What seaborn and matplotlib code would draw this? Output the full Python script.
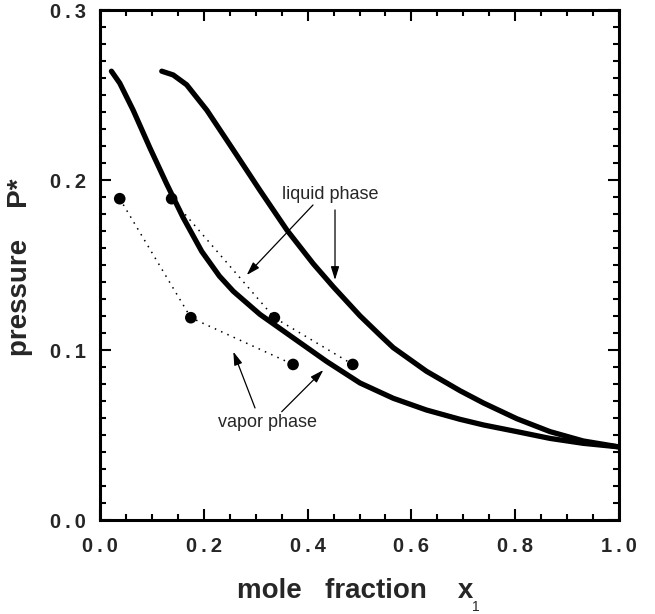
import matplotlib
matplotlib.use("Agg")
import matplotlib.pyplot as plt
from matplotlib.ticker import MultipleLocator, FuncFormatter
import seaborn as sns
import pandas as pd

# Coexistence curves (reduced pressure vs. mole fraction of component 1)
vapor_curve_x = [0.022, 0.038, 0.064, 0.096, 0.128, 0.160, 0.196, 0.230, 0.257, 0.308,
                 0.372, 0.437, 0.501, 0.565, 0.629, 0.694, 0.739, 0.803, 0.867, 0.931, 1.0]
vapor_curve_y = [0.264, 0.257, 0.241, 0.219, 0.198, 0.178, 0.158, 0.1435, 0.1345, 0.121,
                 0.1072, 0.0932, 0.0806, 0.0716, 0.0647, 0.0592, 0.0559, 0.0520, 0.0480, 0.0451, 0.043]

liquid_curve_x = [0.119, 0.141, 0.167, 0.206, 0.257, 0.308, 0.360, 0.411, 0.450, 0.501,
                  0.540, 0.565, 0.629, 0.694, 0.739, 0.803, 0.867, 0.931, 1.0]
liquid_curve_y = [0.264, 0.2618, 0.256, 0.241, 0.2176, 0.194, 0.1706, 0.1507, 0.137, 0.1201,
                  0.1086, 0.1014, 0.0875, 0.0760, 0.0688, 0.0596, 0.052, 0.0465, 0.043]

# Simulation points
vapor_pts_x = [0.038, 0.175, 0.372]
vapor_pts_y = [0.189, 0.119, 0.0915]
liquid_pts_x = [0.138, 0.336, 0.487]
liquid_pts_y = [0.189, 0.119, 0.0915]

x_ticks = [0.0, 0.2, 0.4, 0.6, 0.8, 1.0]
y_ticks = [0.0, 0.1, 0.2, 0.3]

sns.set_style("ticks")
plt.rcParams["font.family"] = ["Liberation Sans", "DejaVu Sans"]

fig = plt.figure(figsize=(6.55, 6.14), dpi=100)
ax = fig.add_axes([100 / 655, 1 - 520 / 614, 519 / 655, 510 / 614])

curve_kw = dict(color="black", linewidth=3.8, sort=False, estimator=None,
                solid_capstyle="round", solid_joinstyle="round", ax=ax)
sns.lineplot(data=pd.DataFrame({"x": vapor_curve_x, "y": vapor_curve_y}), x="x", y="y", **curve_kw)
sns.lineplot(data=pd.DataFrame({"x": liquid_curve_x, "y": liquid_curve_y}), x="x", y="y", **curve_kw)

dot_kw = dict(color="black", linewidth=1.1, sort=False, estimator=None, ax=ax)
for px, py in [(vapor_pts_x, vapor_pts_y), (liquid_pts_x, liquid_pts_y)]:
    d = pd.DataFrame({"x": px, "y": py})
    sns.lineplot(data=d, x="x", y="y", **dot_kw)
    ax.lines[-1].set_linestyle((0, (1, 3.5)))
    sns.scatterplot(data=d, x="x", y="y", color="black", s=70, edgecolor="none",
                    zorder=5, ax=ax)

ax.set_xlim(0, 1.0)
ax.set_ylim(0, 0.3)
ax.set_xticks(x_ticks)
ax.set_yticks(y_ticks)

# widely spaced numerals on the axes
spaced = FuncFormatter(lambda v, pos: "\u2009".join(f"{v:.1f}"))
ax.xaxis.set_major_formatter(spaced)
ax.yaxis.set_major_formatter(spaced)
ax.xaxis.set_minor_locator(MultipleLocator(0.05))
ax.yaxis.set_minor_locator(MultipleLocator(0.01))

ax.tick_params(which="both", direction="in", top=True, right=True, width=1.5, color="black")
ax.tick_params(which="major", length=8, labelsize=14.5)
ax.tick_params(which="minor", length=4)
ax.tick_params(axis="x", which="major", pad=12.5)
ax.tick_params(axis="y", which="major", pad=10)
for lab in ax.get_xticklabels() + ax.get_yticklabels():
    lab.set_fontweight("bold")
for sp in ax.spines.values():
    sp.set_linewidth(2.2)
    sp.set_color("black")

ax.set_xlabel("mole   fraction    x", fontsize=20, fontweight="bold")
ax.set_ylabel("pressure    P*", fontsize=20, fontweight="bold")
ax.xaxis.set_label_coords(0.4925, -0.1137)
ax.yaxis.set_label_coords(-0.129, 0.496)
fig.text(476 / 655, 1 - 607 / 614, "1", fontsize=10, ha="center", va="center")

# Phase labels with arrows
arrow_kw = dict(arrowstyle="-|>,head_length=0.8,head_width=0.25", color="black",
                lw=0.9, shrinkA=0, shrinkB=0, mutation_scale=10)
ax.text(0.443, 0.1888, "liquid phase", fontsize=13, ha="center", va="baseline")
ax.annotate("", xy=(0.2827, 0.1441), xytext=(0.4104, 0.1853), arrowprops=arrow_kw)
ax.annotate("", xy=(0.4528, 0.1412), xytext=(0.4528, 0.1824), arrowprops=arrow_kw)

ax.text(0.322, 0.0547, "vapor phase", fontsize=13, ha="center", va="baseline")
ax.annotate("", xy=(0.2569, 0.0990), xytext=(0.2987, 0.0659), arrowprops=arrow_kw)
ax.annotate("", xy=(0.4303, 0.0882), xytext=(0.3501, 0.0637), arrowprops=arrow_kw)

fig.savefig("out.png", dpi=100)
